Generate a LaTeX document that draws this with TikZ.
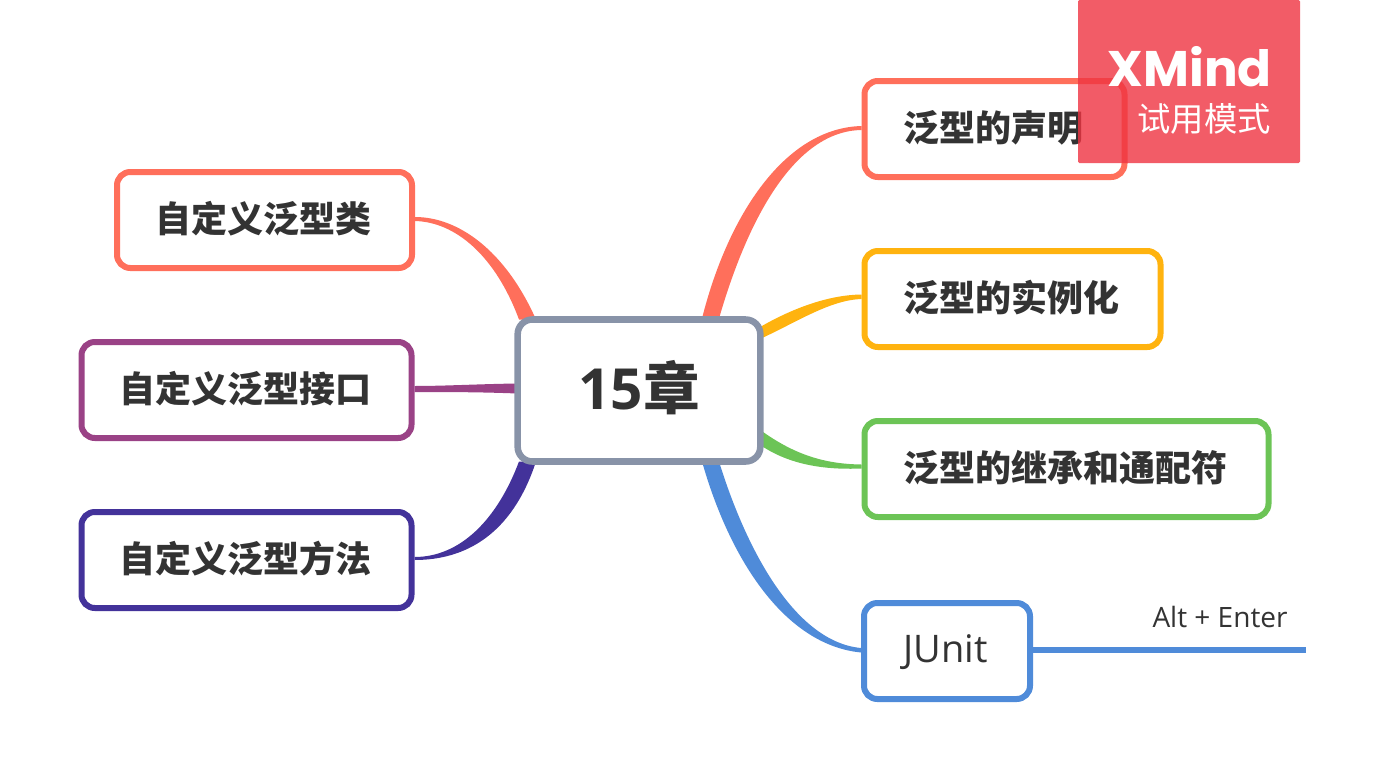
\documentclass[tikz,border=0pt]{standalone}
\usepackage{fontspec}
\usepackage{xcolor}
\usepackage{tikz}
\usetikzlibrary{calc,backgrounds}
\setmainfont{Open Sans}
\newfontfamily\cjk{Noto Sans CJK SC}
\newfontfamily\markfont{Poppins}
\definecolor{inktext}{HTML}{333333}
\definecolor{rootline}{HTML}{8893A8}
\definecolor{coral}{HTML}{FF6F5B}
\definecolor{amber}{HTML}{FFB30F}
\definecolor{grass}{HTML}{6CC456}
\definecolor{sky}{HTML}{4F8BD9}
\definecolor{plum}{HTML}{9A4286}
\definecolor{indigo}{HTML}{43329A}
\definecolor{markred}{RGB}{239,51,65}

\begin{document}
\begin{tikzpicture}[
    x=0.75pt, y=-0.75pt,
    rootbox/.style={rectangle, draw=rootline, fill=white, line width=4.9pt, rounded corners=11pt, minimum width=182pt, minimum height=106.5pt, inner sep=0pt, text=inktext, text height=36pt, text depth=7pt, font=\fontsize{42.5}{50}\selectfont\bfseries},
    topic/.style={rectangle, fill=white, line width=4.5pt, rounded corners=10pt, minimum height=72pt, inner sep=0pt, text=inktext, text height=23pt, text depth=4.6pt, execute at end node={\kern 2.25pt}, font=\fontsize{27}{32}\selectfont\cjk\bfseries},
]
    \useasboundingbox (0,0) rectangle (1384,778);

    \node[rootbox] (root) at (639,390.5) {15{\cjk 章}};

    \node[topic, draw=coral, minimum width=221.25pt] (custclass) at (264.5,220) {自定义泛型类};
    \node[topic, draw=plum, minimum width=247.5pt] (custiface) at (246.5,390) {自定义泛型接口};
    \node[topic, draw=indigo, minimum width=247.5pt] (custmethod) at (246.5,560) {自定义泛型方法};

    \node[topic, draw=coral, minimum width=195pt] (declare) at (994.5,129) {泛型的声明};
    \node[topic, draw=amber, minimum width=222pt] (instance) at (1012.5,299) {泛型的实例化};
    \node[topic, draw=grass, minimum width=303pt] (wildcard) at (1066.5,469) {泛型的继承和通配符};
    \node[topic, draw=sky, minimum width=124.5pt, text height=24pt, text depth=6.2pt, font=\fontsize{28.5}{34}\selectfont] (junit) at (947,651) {JUnit};

    \coordinate (tailend) at (1306,650);
    \node[text=inktext, font=\fontsize{21}{25}\selectfont, anchor=base] (altenter) at (1220,627) {Alt + Enter};

    \begin{scope}[on background layer]
        \fill[coral] ($(root.center)+(63,-72)$) .. controls (728,215) and (785,128) .. ($(declare.west)+(0,-3)$) -- ($(declare.west)+(0,1)$) .. controls (795,131) and (748,218) .. ($(root.center)+(80,-72)$) -- cycle;
        \fill[amber] ($(root.center)+(122,-64)$) .. controls (788,311) and (825,295) .. ($(instance.west)+(0,-4.5)$) -- ($(instance.west)+(0,0)$) .. controls (830,300) and (797,322) .. ($(root.center)+(122,-52)$) -- cycle;
        \fill[grass] ($(root.center)+(122,40)$) .. controls (795,455) and (825,464) .. ($(wildcard.west)+(0,-4.5)$) -- ($(wildcard.west)+(0,-0.5)$) .. controls (825,470) and (790,465) .. ($(root.center)+(122,55)$) -- cycle;
        \fill[sky] ($(root.center)+(63,71)$) .. controls (730,560) and (785,645) .. ($(junit.west)+(0,1.5)$) -- ($(junit.west)+(0,-3)$) .. controls (796,642) and (747,552) .. ($(root.center)+(80,71)$) -- cycle;
        \fill[coral] ($(root.center)+(-120,-71)$) .. controls (495,255) and (455,222) .. ($(custclass.east)+(0,1)$) -- ($(custclass.east)+(0,-3)$) .. controls (458,217) and (505,250) .. ($(root.center)+(-103,-71)$) -- cycle;
        \fill[plum] ($(root.center)+(-122,-7)$) .. controls (480,384) and (445,386) .. ($(custiface.east)+(0,-4)$) -- ($(custiface.east)+(0,2)$) .. controls (445,392) and (480,392) .. ($(root.center)+(-122,3)$) -- cycle;
        \fill[indigo] ($(root.center)+(-120,71)$) .. controls (497,520) and (460,557) .. ($(custmethod.east)+(0,-3)$) -- ($(custmethod.east)+(0,0)$) .. controls (465,560) and (512,535) .. ($(root.center)+(-103,71)$) -- cycle;
    \end{scope}
    \draw[sky, line width=4.5pt] (junit.east |- tailend) -- (tailend);

    % trial stamp
    \node[rectangle, fill=markred, fill opacity=0.8, rounded corners=1pt, minimum width=166.5pt, minimum height=122.25pt, inner sep=0pt] (stamp) at (1189,81.5) {};
    \node[text=white, inner sep=0pt, font=\fontsize{37.5}{44}\selectfont\markfont\bfseries, anchor=base east] (stampname) at (1272,86) {XMind};
    \node[text=white, inner sep=0pt, font=\fontsize{25}{30}\selectfont\cjk, anchor=base east] (stampmode) at (1271,131) {试用模式};
\end{tikzpicture}
\end{document}
